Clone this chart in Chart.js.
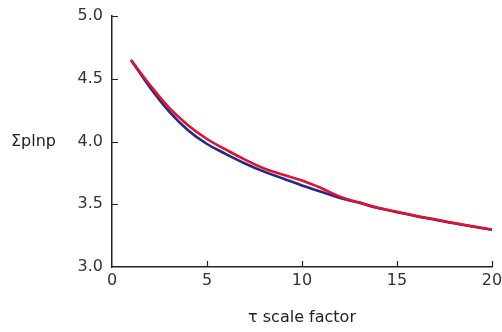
<!DOCTYPE html>
<html>
<head>
<meta charset="utf-8">
<script src="https://cdn.jsdelivr.net/npm/chart.js@4.4.1/dist/chart.umd.min.js"></script>
<style>
  html, body { margin: 0; padding: 0; background: #fff; }
  #wrap { width: 502px; height: 332px; }
</style>
</head>
<body>
<div id="wrap"><canvas id="chart" width="502" height="332"></canvas></div>
<script>
// values
const tauValues = [1, 2, 3, 4, 5, 6, 7, 8, 9, 10, 11, 12, 13, 14, 15, 16, 17, 18, 19, 20];
const blueSeries = [4.65, 4.43, 4.24, 4.09, 3.98, 3.90, 3.825, 3.76, 3.705, 3.65, 3.60, 3.55, 3.512, 3.47, 3.437, 3.405, 3.377, 3.348, 3.322, 3.297];
const redSeries  = [4.65, 4.45, 4.27, 4.13, 4.02, 3.935, 3.855, 3.785, 3.735, 3.69, 3.63, 3.56, 3.515, 3.473, 3.44, 3.408, 3.38, 3.35, 3.324, 3.299];
const xTicks = [0, 5, 10, 15, 20];
const yTicks = [3.0, 3.5, 4.0, 4.5, 5.0];

const font = "'DejaVu Sans', sans-serif";

function toPoints(ys) {
    return tauValues.map((x, i) => ({ x: x, y: ys[i] }));
}

// draws tick marks pointing into the plot and the two axis titles
const axisExtras = {
    id: 'axisExtras',
    afterDraw(chart) {
        const ctx = chart.ctx;
        const xs = chart.scales.x;
        const ys = chart.scales.y;
        const area = chart.chartArea;
        ctx.save();
        ctx.strokeStyle = '#222';
        ctx.lineWidth = 1.2;
        ctx.beginPath();
        xTicks.forEach(v => {
            if (v === xTicks[0]) return;
            const px = Math.round(xs.getPixelForValue(v)) + 0.5;
            ctx.moveTo(px, area.bottom);
            ctx.lineTo(px, area.bottom - 6);
        });
        yTicks.forEach(v => {
            if (v === yTicks[0]) return;
            const py = Math.round(ys.getPixelForValue(v)) + 0.5;
            ctx.moveTo(area.left, py);
            ctx.lineTo(area.left + 6, py);
        });
        ctx.stroke();

        ctx.fillStyle = '#222';
        ctx.font = '16px ' + font;
        ctx.textBaseline = 'middle';
        ctx.textAlign = 'left';
        ctx.fillText('Σplnp', 11, (area.top + area.bottom) / 2);
        ctx.textAlign = 'center';
        ctx.fillText('τ scale factor', (area.left + area.right) / 2, 318);
        ctx.restore();
    }
};

new Chart(document.getElementById('chart').getContext('2d'), {
    type: 'line',
    data: {
        datasets: [
            {
                label: 'red',
                data: toPoints(redSeries),
                borderColor: '#e5102c',
                borderWidth: 2.6,
                pointRadius: 0,
                tension: 0.4,
                fill: false
            },
            {
                label: 'blue',
                data: toPoints(blueSeries),
                borderColor: '#1f2a8a',
                borderWidth: 2.6,
                pointRadius: 0,
                tension: 0.4,
                fill: false
            }
        ]
    },
    plugins: [axisExtras],
    options: {
        responsive: false,
        animation: false,
        layout: { padding: { top: 16, right: 10, left: 0, bottom: 0 } },
        plugins: {
            legend: { display: false },
            tooltip: { enabled: false }
        },
        scales: {
            x: {
                type: 'linear',
                min: 0,
                max: 20,
                afterBuildTicks: s => { s.ticks = xTicks.map(v => ({ value: v })); },
                afterFit: s => { s.height = 65; s.paddingLeft = 0; s.paddingRight = 0; },
                border: { display: true, color: '#222', width: 1.5 },
                grid: { display: false, drawTicks: false, tickLength: 0 },
                ticks: {
                    color: '#333',
                    font: { family: font, size: 16 },
                    padding: 4
                }
            },
            y: {
                type: 'linear',
                min: 3,
                max: 5,
                afterBuildTicks: s => { s.ticks = yTicks.map(v => ({ value: v })); },
                afterFit: s => { s.width = 112; s.paddingTop = 0; s.paddingBottom = 0; },
                border: { display: true, color: '#222', width: 1.5 },
                grid: { display: false, drawTicks: false, tickLength: 0 },
                ticks: {
                    color: '#333',
                    font: { family: font, size: 16 },
                    padding: 9,
                    callback: v => v.toFixed(1)
                }
            }
        }
    }
});
</script>
</body>
</html>
